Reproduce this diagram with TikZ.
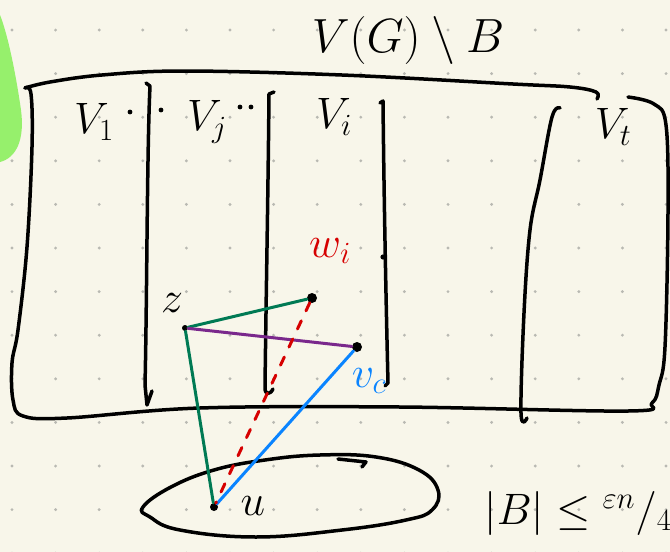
\RequirePackage{fix-cm}
\documentclass[tikz,border=0pt]{standalone}
\usepackage{amsmath}
\usetikzlibrary{positioning}

\definecolor{papercream}{RGB}{248,246,234}
\definecolor{dotgray}{RGB}{185,185,178}
\definecolor{blobgreen}{RGB}{150,240,108}
\definecolor{edgegreen}{RGB}{0,122,84}
\definecolor{edgepurple}{RGB}{122,40,140}
\definecolor{edgeblue}{RGB}{10,132,255}
\definecolor{edgered}{RGB}{214,0,0}

\tikzset{
	pen/.style={line width=3.5pt, line cap=round, line join=round},
	link/.style={line width=3pt, line cap=round},
	vtx/.style={circle, fill=black, inner sep=0pt, minimum size=#1},
	vtx/.default=7pt,
	lbl/.style={font=\fontsize{44}{48}\selectfont, inner sep=0pt},
}

\begin{document}
\begin{tikzpicture}[x=1pt, y=-1pt]
	
	% Paper and dotted grid
	\useasboundingbox (0,0) rectangle (670,552);
	\fill[papercream] (0,0) rectangle (670,552);
	\foreach \i in {0,...,15} {
		\foreach \j in {0,...,12} {
			\fill[dotgray] ({12+43.6*\i},{30+43.6*\j}) circle (1.6pt);
		}
	}
	
	% Green highlighter blob at the left border
	\fill[blobgreen] (0,15) .. controls (8,35) and (16,75) .. (21,110)
		.. controls (25,140) and (16,158) .. (0,162) -- cycle;
	
	% Outer box for V(G) \ B
	\draw[pen] plot[smooth, tension=0.6] coordinates {(597,99) (596,92) (570,87) (513,84) (342,75) (184,71) (102,75) (50,82) (25,88)};
	\draw[pen] plot[smooth, tension=0.6] coordinates {(25,88) (31,94) (32,147) (27,247) (18,330) (12,363) (13,400) (23,416) (67,418) (200,408) (400,407) (628,411) (652,403) (659,385) (665,347) (668,213) (666,125) (654,104) (628,97)};
	\node[lbl, font=\fontsize{48}{52}\selectfont] (title) at (408,40) {$V(G)\setminus B$};
	
	% Parts V_1, ..., V_j, ..., V_i, ..., V_t
	\draw[pen] (146,83) -- (150,86) .. controls (147,150) and (147,300) .. (145,385) -- (147,405) -- (152,391);
	\draw[pen] (274,92) -- (269,94) .. controls (268,200) and (266,300) .. (265,388) .. controls (265,395) and (270,395) .. (273,389);
	\draw[pen] (380,103) -- (383,101) .. controls (384,200) and (386,300) .. (388,383) -- (385,386);
	\fill (383,257) circle (2.6pt);
	\draw[pen] plot[smooth, tension=0.6] coordinates {(560,108) (552,117) (540,180) (530,230) (524,313) (521,413) (527,418)};
	
	\node[lbl] (V1) at (94,122) {$V_1$};
	\node[lbl] (Vj) at (207,122) {$V_j$};
	\node[lbl] (Vi) at (334,117) {$V_i$};
	\node[lbl] (Vt) at (613,127) {$V_t$};
	\foreach \p in {(130,112),(161,110),(240,107),(251,107)} {
		\fill \p circle (2.4pt);
	}
	
	% The set B
	\draw[pen] plot[smooth cycle, tension=0.7] coordinates {(143,507) (171,487) (214,470) (265,460) (320,455) (376,457) (419,470) (438,490) (432,510) (406,520) (342,530) (256,537) (180,530) (150,517)};
	\draw[pen] (338,459) -- (366,462) -- (362,467);
	\node[lbl] (bound) at (578,513) {$|B| \leq {}^{\varepsilon n}/_{4}$};
	
	% Vertices
	\node[vtx=6pt] (z) at (185,328) {};
	\node[vtx=10pt] (w) at (312,298) {};
	\node[vtx=10pt] (vc) at (357,347) {};
	\node[vtx=8pt] (u) at (214,507) {};
	
	\node[lbl] (zlab) at (172,303) {$z$};
	\node[lbl, text=edgered] (wlab) at (330,251) {$w_i$};
	\node[lbl, text=edgeblue] (vclab) at (369,381) {$v_c$};
	\node[lbl] (ulab) at (253,506) {$u$};
	
	% Edges
	\draw[link, edgegreen] (z) -- (w);
	\draw[link, edgepurple] (z) -- (vc);
	\draw[link, edgegreen] (z) -- (u);
	\draw[link, edgeblue] (vc) -- (u);
	\draw[link, edgered, dash pattern=on 9pt off 11pt] (w) -- (u);
	
\end{tikzpicture}
\end{document}
